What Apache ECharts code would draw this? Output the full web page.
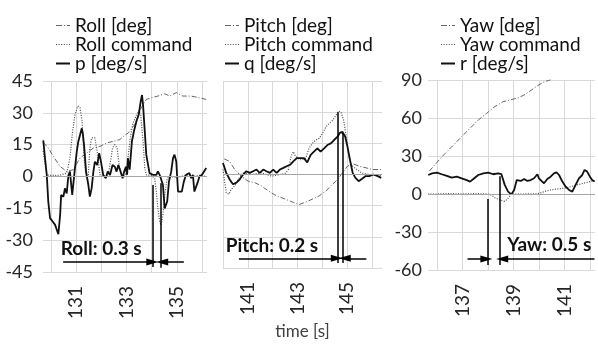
<!DOCTYPE html>
<html>
<head>
<meta charset="utf-8">
<script src="https://cdn.jsdelivr.net/npm/echarts@6/dist/echarts.min.js"></script>
<style>
  html, body { margin: 0; background: #fff; }
  #chart { width: 598px; height: 345px; }
</style>
</head>
<body>
<div id="chart"></div>
<script>
// roll panel: [time s, value]
const rollDeg = [[129.70,16],[129.77,15.8],[129.90,13.5],[130.10,9.5],[130.37,4.7],[130.63,2.4],[130.89,3.2],[131.16,8.7],[131.42,11],[131.69,13.4],[131.95,14.2],[132.22,15.8],[132.48,16.6],[132.74,17.4],[132.94,19.5],[133.08,20.5],[133.33,24.5],[133.59,32.4],[133.79,36.3],[133.99,37.1],[134.25,37.9],[134.52,39],[134.72,37.9],[134.98,39.5],[135.24,37.9],[135.57,37.9],[135.90,37.1],[136.17,36.3]];
const rollCmd = [[129.70,12],[129.77,6],[129.84,0.8],[129.97,0.5],[130.37,0.6],[130.63,1.6],[130.76,8.7],[130.85,19.7],[130.96,29.2],[131.07,33.2],[131.16,32.4],[131.24,26],[131.32,8.7],[131.39,0.8],[131.49,0.8],[131.55,13.4],[131.62,18.2],[131.75,18.2],[131.84,11.8],[131.95,0.8],[132.08,0],[132.28,0.8],[132.37,7.1],[132.45,13.4],[132.54,15],[132.63,13.4],[132.73,4],[132.84,0],[132.97,1],[133.06,8],[133.15,18],[133.26,25],[133.40,29],[133.49,31],[133.57,29],[133.66,16.6],[133.73,4],[133.79,0.8],[133.99,0.5],[134.12,-0.8],[134.19,-7.1],[134.25,-15],[134.32,-21.3],[134.38,-22.9],[134.45,-18.2],[134.54,-7.1],[134.62,-0.8],[134.78,0],[135.05,-0.5],[135.30,0.5],[135.57,0],[135.90,0.5],[136.17,0]];
const rollRate = [[129.70,17],[129.77,8.6],[129.84,0.7],[129.90,-11.9],[129.97,-19.6],[130.08,-21.3],[130.17,-22.8],[130.24,-22],[130.30,-27.2],[130.37,-18.1],[130.41,-8.7],[130.50,-9.5],[130.56,-5.6],[130.63,-8],[130.70,0.7],[130.76,2.3],[130.85,-8.7],[130.93,0.7],[131.03,11.7],[131.09,16.4],[131.16,19.6],[131.23,22.7],[131.27,20.3],[131.32,14.8],[131.40,2.3],[131.49,-4],[131.55,-9.5],[131.62,-5.6],[131.69,2.3],[131.75,7],[131.84,5.4],[131.92,11],[131.99,7],[132.08,0.7],[132.18,-0.8],[132.26,2.3],[132.35,0.7],[132.45,5.4],[132.54,4.6],[132.61,2.3],[132.68,5.4],[132.77,2.3],[132.85,-0.8],[132.91,2.3],[132.98,4.6],[133.03,0.8],[133.06,8.7],[133.13,3.2],[133.22,16.6],[133.30,21.3],[133.40,26],[133.49,29.2],[133.57,35.5],[133.62,38.4],[133.66,34],[133.73,21.3],[133.79,10.3],[133.86,5.5],[133.92,1.6],[133.99,2.4],[134.05,0.8],[134.12,1.6],[134.19,0.8],[134.25,2.4],[134.32,0.8],[134.38,0.8],[134.45,-3.9],[134.52,-15],[134.57,-15.8],[134.62,-11.8],[134.69,-2.4],[134.78,2.4],[134.85,8.7],[134.91,10.3],[134.98,7.1],[135.05,-7.1],[135.11,-6.3],[135.20,-7.1],[135.28,-2.4],[135.37,0.8],[135.44,0],[135.50,1.6],[135.57,-0.8],[135.64,0.8],[135.70,-7.1],[135.77,-6.3],[135.84,-2.4],[135.90,0],[136.00,0.8],[136.07,0.8],[136.17,4]];

// pitch panel
const pitchDeg = [[140.05,7.5],[140.27,6.3],[140.47,2.4],[140.74,-0.8],[141.01,-3.2],[141.28,-3.9],[141.55,-5.5],[141.82,-7.9],[142.16,-10.3],[142.50,-11.8],[142.83,-13.4],[143.06,-14.5],[143.46,-12.6],[143.87,-10.3],[144.14,-7.9],[144.41,-4.7],[144.61,-2.4],[144.81,0.8],[145.01,4],[145.22,5.2],[145.49,4],[145.76,3.2],[146.03,2.4],[146.37,2.4]];
const pitchCmd = [[140.00,2.4],[140.07,-3.9],[140.13,-8.7],[140.23,-9.5],[140.34,-7.1],[140.47,-5.5],[140.61,-2.4],[140.81,0.8],[141.15,0],[141.55,0.8],[141.96,-0.8],[142.29,0],[142.50,0.5],[142.63,2.4],[142.74,8.7],[142.83,11],[142.92,8.7],[143.10,7.1],[143.20,7.1],[143.33,7.9],[143.46,12.6],[143.60,15],[143.73,16.6],[143.87,17.4],[144.00,19.7],[144.14,22.9],[144.27,24.5],[144.41,26],[144.54,28.4],[144.65,30.5],[144.75,30],[144.86,26],[144.96,18.2],[145.07,8.7],[145.16,4.7],[145.30,3.2],[145.57,0.8],[145.89,0],[146.37,-0.5]];
const pitchRate = [[140.00,5.5],[140.13,0.8],[140.27,-2.4],[140.40,-4.7],[140.54,-3.9],[140.67,-2.4],[140.81,0],[140.94,1.6],[141.08,0.8],[141.21,1.6],[141.35,2.4],[141.48,0.8],[141.62,2.4],[141.75,1.6],[141.89,0.8],[142.02,2.4],[142.16,0.8],[142.29,2.4],[142.43,3.2],[142.56,4],[142.70,4.7],[142.83,6.3],[142.97,7.9],[143.10,7.9],[143.26,7.9],[143.39,5.8],[143.53,9.5],[143.66,11],[143.80,12.6],[143.93,11],[144.07,12.6],[144.20,14.2],[144.34,15],[144.47,16.6],[144.61,18.2],[144.70,20],[144.81,20.5],[144.92,18.2],[145.01,13.4],[145.11,7.1],[145.22,0.8],[145.33,-1.6],[145.46,-3.2],[145.60,-2],[145.73,-0.8],[145.89,-0.8],[146.05,0],[146.23,-0.8],[146.37,-1.6]];

// yaw panel
const yawDeg = [[135.70,18],[136.00,25],[136.32,32],[136.65,38.7],[136.97,45.3],[137.30,51.9],[137.62,58.4],[137.95,63.7],[138.27,69],[138.60,72.9],[138.86,74.2],[139.20,76],[139.45,78.5],[139.70,82],[139.95,85.5],[140.20,88.5],[140.50,90.5]];
const yawCmd = [[135.65,0],[136.00,0],[136.50,0.3],[137.00,0],[137.50,0.3],[138.00,0],[138.15,-1],[138.27,-2.9],[138.47,-4.7],[138.66,-5.8],[138.77,-3.8],[138.92,0],[139.42,0],[139.94,0.2],[140.20,1.8],[140.46,3.2],[140.72,4],[140.98,4.5],[141.24,5.8],[141.50,7.2],[141.76,8.5],[142.02,9.8],[142.18,10.3]];
const yawRate = [[135.66,15],[135.81,16.3],[136.00,16.9],[136.19,15.6],[136.39,14.3],[136.58,12.9],[136.78,13.7],[136.97,12.4],[137.17,11],[137.30,9.8],[137.43,11.9],[137.62,15],[137.82,16.3],[138.01,16.9],[138.21,15.6],[138.40,16.3],[138.53,15.6],[138.66,7.2],[138.79,1.9],[138.92,-0.3],[139.03,3.2],[139.13,11],[139.29,10.3],[139.42,11.9],[139.55,10.3],[139.68,11],[139.81,12.4],[139.94,15.6],[140.00,12.4],[140.10,10.3],[140.20,8.5],[140.33,11.9],[140.46,13.7],[140.59,16.3],[140.69,17.1],[140.79,15],[140.92,9.8],[141.05,5.8],[141.18,3.2],[141.31,1.9],[141.44,7.2],[141.57,12.4],[141.70,15],[141.79,19],[141.89,17.7],[142.00,13.7],[142.09,11],[142.18,9.8]];

// delay markers: cursor lines [t, from, to], arrows [fromT, toT, level], note [t, level, text]
const rollCursors = [[134.06,-4,-42.6],[134.36,-3.2,-43]];
const rollArrows = [[130.49,134.03,-40.3],[135.28,134.42,-40.3]];
const rollNote = [132.0,-34.2,'Roll: 0.3 s'];
const pitchCursors = [[144.62,30,-42.6],[144.83,20,-42.6]];
const pitchArrows = [[140.64,144.58,-40.3],[145.77,144.9,-40.3]];
const pitchNote = [141.97,-34.2,'Pitch: 0.2 s'];
const yawCursors = [[138.0,-4,-56],[138.45,14,-56]];
const yawArrows = [[137.2,137.94,-51.3],[142.18,138.56,-51.3]];
const yawNote = [140.41,-40.3,'Yaw: 0.5 s'];

const font = 'Lato, sans-serif';
const dashDot = { color: '#666', width: 1, type: [5, 2, 1, 2] };
const dotted = { color: '#4a4a4a', width: 1.2, type: [1, 1.5] };
const solid = { color: '#111', width: 1.8, type: 'solid' };

// short line samples for the legend
const dashDotIcon = 'path://M0,0h6v1h-6zM8,0h1v1h-1zM11,0h3v1h-3z';
const dottedIcon = 'path://M0,0h1v1h-1zM2.5,0h1v1h-1zM5,0h1v1h-1zM7.5,0h1v1h-1zM10,0h1v1h-1zM12.5,0h1v1h-1z';
const solidIcon = 'path://M0,0h14v2h-14z';

function oddLabel(v) {
    const r = Math.round(v);
    return Math.abs(v - r) < 1e-6 && Math.abs(r % 2) === 1 ? String(r) : '';
}

function xAxisFor(i, min, max, minLine, extra) {
    return Object.assign({
        type: 'value', gridIndex: i, min: min, max: max, minInterval: 1, maxInterval: 1,
        axisLine: { show: false }, axisTick: { show: false },
        splitLine: { show: true, showMinLine: minLine, showMaxLine: false, lineStyle: { color: '#d9d9d9' } },
        axisLabel: { rotate: 90, margin: 14, fontSize: 19, color: '#262626', fontFamily: font, formatter: oddLabel }
    }, extra || {});
}

function yAxisFor(i, min, max, interval, labels, margin) {
    return {
        type: 'value', gridIndex: i, min: min, max: max, interval: interval,
        axisLine: { show: false }, axisTick: { show: false },
        splitLine: { show: true, lineStyle: { color: '#d9d9d9' } },
        axisLabel: { show: labels, margin: margin, fontSize: 18, color: '#262626', fontFamily: font }
    };
}

function line(name, data, style, gi, extra) {
    return Object.assign({
        name: name, type: 'line', xAxisIndex: gi, yAxisIndex: gi, data: data,
        symbol: 'none', lineStyle: style, itemStyle: { color: style.color }, animation: false
    }, extra || {});
}

function zeroLine() {
    return {
        markLine: {
            silent: true, animation: false, symbol: 'none', label: { show: false },
            lineStyle: { color: '#a6a6a6', width: 1, type: 'solid' },
            data: [{ yAxis: 0 }]
        }
    };
}

function delayMarks(cursors, arrows, note) {
    return {
        markLine: {
            silent: true, animation: false, symbol: 'none', label: { show: false },
            lineStyle: { color: '#000', width: 1.5, type: 'solid' },
            data: cursors.map(c => [{ coord: [c[0], c[1]] }, { coord: [c[0], c[2]] }])
                .concat(arrows.map(a => [
                    { coord: [a[0], a[2]], symbol: 'none' },
                    { coord: [a[1], a[2]], symbol: 'triangle', symbolSize: [7, 12] }
                ]))
        },
        markPoint: {
            silent: true, animation: false, symbol: 'rect', symbolSize: 1,
            itemStyle: { color: 'rgba(0,0,0,0)' },
            label: { show: true, position: 'inside', formatter: p => p.name, fontFamily: font, fontWeight: 'bold', fontSize: 19, color: '#111' },
            data: [{ name: note[2], coord: [note[0], note[1]] }]
        }
    };
}

function legendFor(left, names) {
    return {
        left: left, top: 11, orient: 'vertical', itemWidth: 14, itemHeight: 14, itemGap: 0,
        itemStyle: { borderWidth: 0 },
        selectedMode: false,
        data: [
            { name: names[0], icon: dashDotIcon },
            { name: names[1], icon: dottedIcon },
            { name: names[2], icon: solidIcon }
        ],
        textStyle: { fontSize: 19, lineHeight: 19, color: '#111', fontFamily: font }
    };
}

const option = {
    backgroundColor: '#fff',
    animation: false,
    legend: [
        legendFor(51, ['Roll [deg]', 'Roll command', 'p [deg/s]']),
        legendFor(220, ['Pitch [deg]', 'Pitch command', 'q [deg/s]']),
        legendFor(436, ['Yaw [deg]', 'Yaw command', 'r [deg/s]'])
    ],
    grid: [
        { left: 43, top: 81, width: 164, height: 191 },
        { left: 223, top: 81, width: 159, height: 191 },
        { left: 428, top: 80, width: 167, height: 190 }
    ],
    xAxis: [
        xAxisFor(0, 129.69, 136.2, false),
        xAxisFor(1, 140, 146.4, true, {
            name: 'time [s]', nameLocation: 'middle', nameGap: 50,
            nameTextStyle: { fontSize: 17, color: '#404040', fontFamily: font }
        }),
        xAxisFor(2, 135.65, 142.2, false)
    ],
    yAxis: [
        yAxisFor(0, -45, 45, 15, true, 10),
        yAxisFor(1, -45, 45, 15, false, 10),
        yAxisFor(2, -60, 90, 30, true, 6)
    ],
    series: [
        line('Roll [deg]', rollDeg, dashDot, 0, zeroLine()),
        line('Roll command', rollCmd, dotted, 0),
        line('p [deg/s]', rollRate, solid, 0, delayMarks(rollCursors, rollArrows, rollNote)),
        line('Pitch [deg]', pitchDeg, dashDot, 1, zeroLine()),
        line('Pitch command', pitchCmd, dotted, 1),
        line('q [deg/s]', pitchRate, solid, 1, delayMarks(pitchCursors, pitchArrows, pitchNote)),
        line('Yaw [deg]', yawDeg, dashDot, 2, zeroLine()),
        line('Yaw command', yawCmd, dotted, 2),
        line('r [deg/s]', yawRate, solid, 2, delayMarks(yawCursors, yawArrows, yawNote))
    ]
};

const chart = echarts.init(document.getElementById('chart'));
chart.setOption(option);
</script>
</body>
</html>
